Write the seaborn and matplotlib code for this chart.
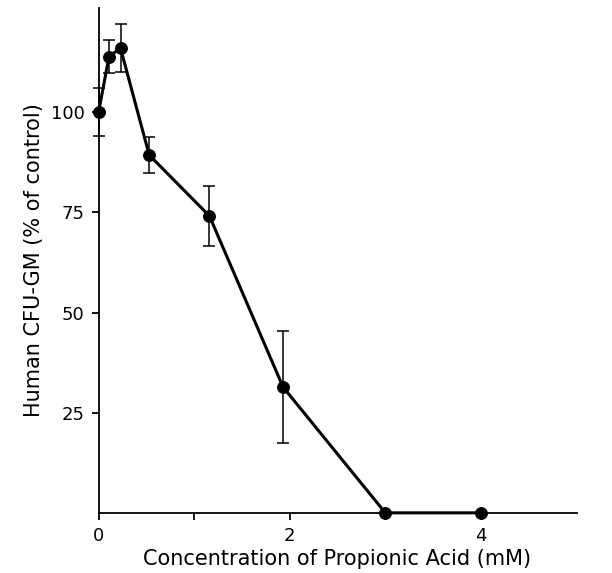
import matplotlib
matplotlib.use("Agg")
import matplotlib.pyplot as plt
import seaborn as sns
import pandas as pd

# values
concentration = [0.0, 0.11, 0.23, 0.53, 1.16, 1.93, 3.0, 4.0]
cfu_gm = [100.0, 113.9, 116.0, 89.3, 74.1, 31.4, 0.0, 0.0]
cfu_err = [6.0, 4.0, 6.0, 4.6, 7.5, 14.0, 0.0, 0.0]

x_ticks = [0, 1, 2, 3, 4]
x_tick_labels = ["0", "", "2", "", "4"]
y_ticks = [25, 50, 75, 100]

df = pd.DataFrame({"conc": concentration, "cfu": cfu_gm, "err": cfu_err})

sns.set_style("ticks")
plt.rcParams.update({"font.family": ["DejaVu Sans"], "font.size": 13,
                     "text.color": "black", "axes.labelcolor": "black"})

fig = plt.figure(figsize=(6.12, 5.73), dpi=100)
ax = fig.add_axes([0.161, 0.105, 0.781, 0.881])

# error bars only where there is a spread
eb = df[df["err"] > 0]
ax.errorbar(eb["conc"], eb["cfu"], yerr=eb["err"], fmt="none", ecolor="black",
            elinewidth=1.1, capsize=4.5, capthick=1.1, clip_on=False, zorder=2)
sns.lineplot(data=df, x="conc", y="cfu", ax=ax, color="black", linewidth=2.2,
             marker="o", markersize=8.5, markeredgecolor="black", clip_on=False, zorder=3)

ax.set_xlim(0, 5)
ax.set_ylim(0, 126)
ax.set_xticks(x_ticks)
ax.set_xticklabels(x_tick_labels)
ax.set_yticks(y_ticks)
sns.despine(ax=ax)
for s in ["left", "bottom"]:
    ax.spines[s].set_linewidth(1.3)
    ax.spines[s].set_color("black")
ax.tick_params(axis="both", direction="out", length=5, width=1.3, colors="black",
               labelsize=13, pad=5)

ax.set_xlabel("Concentration of Propionic Acid (mM)", fontsize=15, labelpad=3)
ax.set_ylabel("Human CFU-GM (% of control)", fontsize=15, labelpad=5)

fig.savefig("out.png", dpi=100)
